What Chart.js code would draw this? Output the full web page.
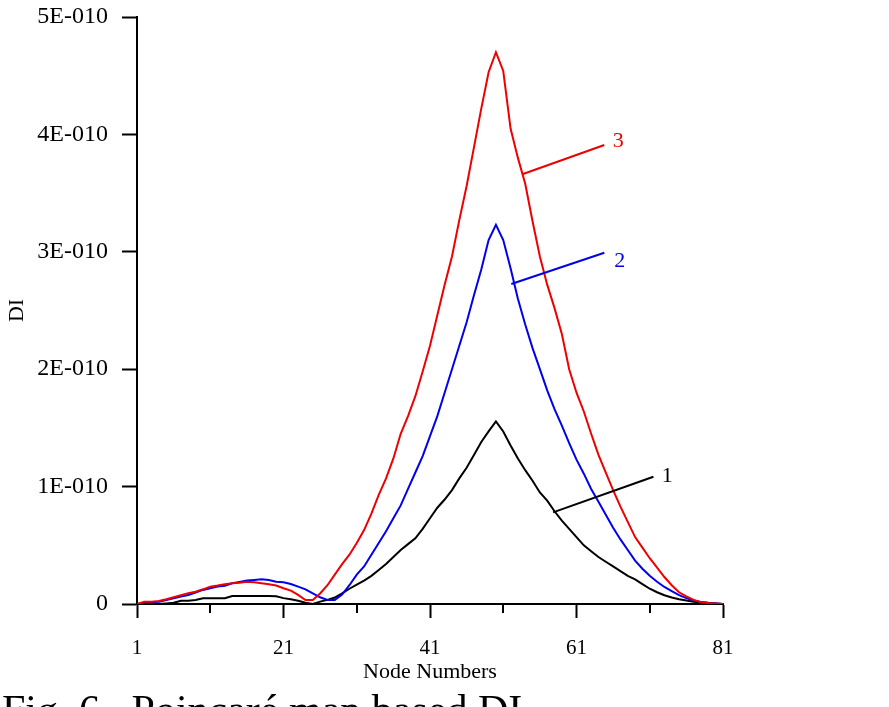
<!DOCTYPE html>
<html>
<head>
<meta charset="utf-8">
<script src="https://cdn.jsdelivr.net/npm/chart.js@4/dist/chart.umd.min.js"></script>
<style>
    html, body { margin: 0; padding: 0; background: #fff; overflow: hidden; }
    #wrap { position: relative; width: 889px; height: 707px; }
</style>
</head>
<body>
<div id="wrap"><canvas id="chart"></canvas></div>
<script>
// Node numbers along the x axis
const nodes = [
    1, 2, 3, 4, 5, 6, 7, 8, 9, 10, 11, 12, 13, 14, 15, 16, 17, 18, 19, 20,
    21, 22, 23, 24, 25, 26, 27, 28, 29, 30, 31, 32, 33, 34, 35, 36, 37, 38, 39, 40,
    41, 42, 43, 44, 45, 46, 47, 48, 49, 50, 51, 52, 53, 54, 55, 56, 57, 58, 59, 60,
    61, 62, 63, 64, 65, 66, 67, 68, 69, 70, 71, 72, 73, 74, 75, 76, 77, 78, 79, 80, 81
];

// DI values, in units of 1E-010
const curve1 = [
    0, 0, 0, 0, 0.005, 0.01, 0.028, 0.028, 0.034, 0.049, 0.049, 0.049, 0.05, 0.068, 0.068, 0.068, 0.068, 0.068, 0.068, 0.066,
    0.05, 0.04, 0.028, 0.01, 0, 0.02, 0.035, 0.055, 0.09, 0.13, 0.165, 0.2, 0.24, 0.29, 0.34, 0.4, 0.46, 0.51, 0.56, 0.64,
    0.73, 0.82, 0.89, 0.97, 1.07, 1.16, 1.27, 1.38, 1.47, 1.555, 1.47, 1.35, 1.24, 1.14, 1.05, 0.95, 0.88, 0.79, 0.71, 0.64,
    0.57, 0.5, 0.45, 0.4, 0.36, 0.32, 0.28, 0.24, 0.21, 0.17, 0.13, 0.1, 0.075, 0.055, 0.04, 0.03, 0.02, 0.012, 0.008, 0.004, 0
];
const curve2 = [
    0, 0.01, 0.015, 0.02, 0.034, 0.049, 0.063, 0.077, 0.097, 0.12, 0.134, 0.148, 0.156, 0.177, 0.188, 0.2, 0.205, 0.21, 0.205, 0.19,
    0.185, 0.17, 0.148, 0.125, 0.09, 0.057, 0.034, 0.035, 0.08, 0.16, 0.25, 0.32, 0.42, 0.52, 0.62, 0.73, 0.84, 0.98, 1.12, 1.26,
    1.43, 1.6, 1.8, 2.0, 2.2, 2.4, 2.63, 2.85, 3.1, 3.23, 3.1, 2.86, 2.6, 2.38, 2.18, 2.0, 1.82, 1.66, 1.52, 1.37,
    1.23, 1.11, 0.98, 0.87, 0.76, 0.65, 0.55, 0.46, 0.37, 0.3, 0.24, 0.19, 0.145, 0.11, 0.075, 0.05, 0.03, 0.018, 0.01, 0.005, 0
];
const curve3 = [
    0, 0.02, 0.02, 0.025, 0.04, 0.057, 0.074, 0.091, 0.105, 0.125, 0.148, 0.157, 0.168, 0.177, 0.182, 0.19, 0.185, 0.177, 0.168, 0.157,
    0.134, 0.114, 0.077, 0.034, 0.034, 0.09, 0.16, 0.25, 0.34, 0.42, 0.52, 0.63, 0.77, 0.93, 1.07, 1.24, 1.45, 1.6, 1.77, 1.98,
    2.2, 2.46, 2.72, 2.96, 3.27, 3.56, 3.89, 4.22, 4.53, 4.7, 4.54, 4.05, 3.8, 3.58, 3.26, 2.96, 2.72, 2.52, 2.3, 2.0,
    1.8, 1.64, 1.45, 1.27, 1.12, 0.97, 0.83, 0.7, 0.57, 0.48, 0.39, 0.31, 0.23, 0.16, 0.1, 0.065, 0.035, 0.015, 0.008, 0.005, 0
];

const xTicks = [1, 11, 21, 31, 41, 51, 61, 71, 81];
const xLabelled = [1, 21, 41, 61, 81];
const yTicks = [0, 1, 2, 3, 4, 5];

// leader lines for the curve labels: [label, colour, x0, y0, x1, y1, textX, textY]
const leaders = [
    ['1', '#000000', 57.8, 0.78, 71.5, 1.084, 73.4, 1.09],
    ['2', '#0000ee', 52.1, 2.726, 64.8, 2.992, 66.9, 2.92],
    ['3', '#ee0000', 53.7, 3.663, 64.8, 3.91, 66.7, 3.944]
];

const caption = 'Fig. 6.  Poincaré map based DI';
const serif = "'Liberation Serif', 'Times New Roman', serif";

function toPoints(values) {
    return nodes.map((n, i) => ({ x: n, y: values[i] }));
}

const extrasPlugin = {
    id: 'extras',
    afterDraw(chart) {
        const ctx = chart.ctx;
        const xs = chart.scales.x;
        const ys = chart.scales.y;
        const bottom = chart.chartArea.bottom;

        ctx.save();
        // minor ticks on the x axis
        ctx.strokeStyle = '#000';
        ctx.lineWidth = 2;
        xTicks.forEach(t => {
            if (xLabelled.includes(t)) return;
            const px = Math.round(xs.getPixelForValue(t));
            ctx.beginPath();
            ctx.moveTo(px, bottom);
            ctx.lineTo(px, bottom + 9);
            ctx.stroke();
        });

        // curve labels with leader lines
        ctx.font = '22px ' + serif;
        ctx.textAlign = 'center';
        ctx.textBaseline = 'middle';
        leaders.forEach(([label, color, x0, y0, x1, y1, tx, ty]) => {
            ctx.strokeStyle = color;
            ctx.lineWidth = 2;
            ctx.beginPath();
            ctx.moveTo(xs.getPixelForValue(x0), ys.getPixelForValue(y0));
            ctx.lineTo(xs.getPixelForValue(x1), ys.getPixelForValue(y1));
            ctx.stroke();
            ctx.fillStyle = color;
            ctx.fillText(label, xs.getPixelForValue(tx), ys.getPixelForValue(ty));
        });

        // figure caption, cut by the bottom edge
        ctx.font = '42px ' + serif;
        ctx.textAlign = 'left';
        ctx.textBaseline = 'alphabetic';
        ctx.fillStyle = '#000';
        ctx.fillText(caption, 2, 724);
        ctx.restore();
    }
};

new Chart(document.getElementById('chart'), {
    type: 'line',
    data: {
        datasets: [
            { label: '3', data: toPoints(curve3), borderColor: '#ee0000', borderWidth: 2 },
            { label: '2', data: toPoints(curve2), borderColor: '#0000ee', borderWidth: 2 },
            { label: '1', data: toPoints(curve1), borderColor: '#000000', borderWidth: 2 }
        ]
    },
    options: {
        responsive: true,
        maintainAspectRatio: false,
        animation: false,
        elements: {
            point: { radius: 0 },
            line: { tension: 0, fill: false }
        },
        layout: { padding: { top: 17, right: 166, left: 0, bottom: 0 } },
        plugins: {
            legend: { display: false },
            tooltip: { enabled: false }
        },
        scales: {
            x: {
                type: 'linear',
                min: 1,
                max: 81,
                afterFit: s => {
                    s.height = 103;
                    s.paddingLeft = 0;
                    s.paddingRight = 0;
                },
                afterBuildTicks: s => { s.ticks = xTicks.map(v => ({ value: v })); },
                border: { display: true, color: '#000', width: 2 },
                grid: {
                    drawOnChartArea: false,
                    tickLength: 14,
                    tickWidth: 2,
                    tickColor: ctx => (ctx.tick && xLabelled.includes(ctx.tick.value)) ? '#000' : 'rgba(0,0,0,0)'
                },
                ticks: {
                    color: '#000',
                    padding: 18,
                    maxRotation: 0,
                    autoSkip: false,
                    font: { family: serif, size: 21 },
                    callback: v => xLabelled.includes(v) ? String(v) : ''
                },
                title: {
                    display: true,
                    text: 'Node Numbers',
                    color: '#000',
                    font: { family: serif, size: 22 },
                    padding: { top: 0, bottom: 22 }
                }
            },
            y: {
                min: 0,
                max: 5,
                afterFit: s => {
                    s.width = 137;
                    s.paddingTop = 0;
                    s.paddingBottom = 0;
                },
                afterBuildTicks: s => { s.ticks = yTicks.map(v => ({ value: v })); },
                border: { display: true, color: '#000', width: 2 },
                grid: {
                    drawOnChartArea: false,
                    tickLength: 15,
                    tickWidth: 2,
                    tickColor: '#000'
                },
                ticks: {
                    color: '#000',
                    padding: 14,
                    font: { family: serif, size: 24 },
                    callback: v => v === 0 ? '0' : v + 'E-010'
                },
                title: {
                    display: true,
                    text: 'DI',
                    color: '#000',
                    font: { family: serif, size: 22 },
                    padding: { top: 4, bottom: 0 }
                }
            }
        }
    },
    plugins: [extrasPlugin]
});
</script>
</body>
</html>
